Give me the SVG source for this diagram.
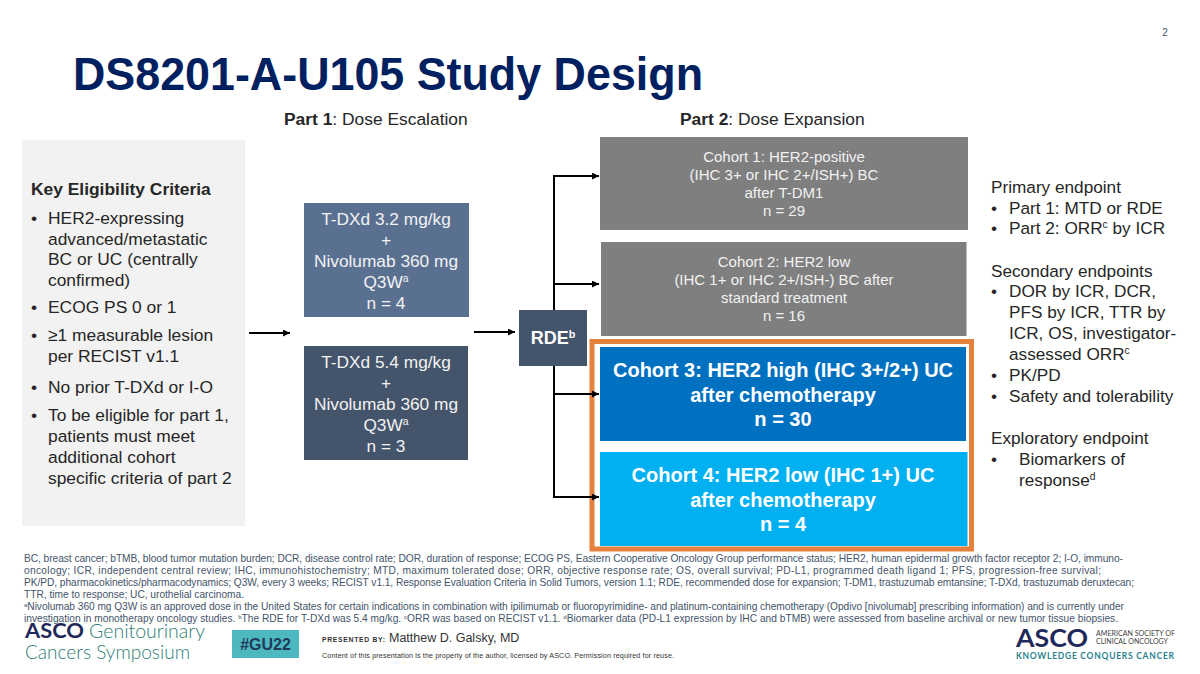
<svg xmlns="http://www.w3.org/2000/svg" width="1200" height="674" viewBox="0 0 1200 674">
<style>
text{font-family:"Liberation Sans",Arial,sans-serif}
.w{fill:#fff;text-anchor:middle}
.c{font-size:15px;fill:#f2f2f2}
.d{font-size:17.3px;fill:#f2f2f2}
.big{font-size:20px;font-weight:bold}
.k{font-size:17.4px;fill:#262626}
.e{font-size:17.2px;fill:#262626}
.h{font-size:17.4px;fill:#262626}
.f{font-size:10.2px;fill:#44546a}
.sup{font-size:60%}
.conn{fill:none;stroke:#000;stroke-width:2}
.logo{font-family:Lato,"Liberation Sans",sans-serif}
.thin{font-weight:300}
</style>
<defs>
<marker id="arrow" markerWidth="8" markerHeight="8" refX="7" refY="3.5" orient="auto" markerUnits="userSpaceOnUse"><path d="M0,0 L7,3.5 L0,7 Z" fill="#000"/></marker>
</defs>
<rect width="1200" height="674" fill="#fff"/>
<text x="1165" y="36" font-size="10" fill="#44546a" text-anchor="middle">2</text>
<text x="73" y="90" font-size="46" font-weight="bold" fill="#002060" textLength="630" lengthAdjust="spacingAndGlyphs">DS8201-A-U105 Study Design</text>
<text x="284" y="125" class="h"><tspan font-weight="bold">Part 1</tspan>: Dose Escalation</text>
<text x="680" y="125" class="h"><tspan font-weight="bold">Part 2</tspan>: Dose Expansion</text>

<g id="eligibility">
<rect x="22" y="140" width="223" height="386" fill="#f2f2f2"/>
<text x="31" y="195" class="k" font-weight="bold">Key Eligibility Criteria</text>
<text x="31" y="224" class="k">•</text><text x="48" y="224" class="k">HER2-expressing</text>
<text x="48" y="245" class="k">advanced/metastatic</text>
<text x="48" y="265" class="k">BC or UC (centrally</text>
<text x="48" y="286" class="k">confirmed)</text>
<text x="31" y="313" class="k">•</text><text x="48" y="313" class="k">ECOG PS 0 or 1</text>
<text x="31" y="341" class="k">•</text><text x="48" y="341" class="k">≥1 measurable lesion</text>
<text x="48" y="362" class="k">per RECIST v1.1</text>
<text x="31" y="393" class="k">•</text><text x="48" y="393" class="k">No prior T-DXd or I-O</text>
<text x="31" y="421" class="k">•</text><text x="48" y="421" class="k">To be eligible for part 1,</text>
<text x="48" y="442" class="k">patients must meet</text>
<text x="48" y="463" class="k">additional cohort</text>
<text x="48" y="484" class="k">specific criteria of part 2</text>
</g>

<g id="dose-32">
<rect x="304" y="203" width="165" height="114" fill="#5a7091"/>
<text x="386" y="225" class="w d">T-DXd 3.2 mg/kg</text>
<text x="386" y="246" class="w d">+</text>
<text x="386" y="267" class="w d">Nivolumab 360 mg</text>
<text x="386" y="288" class="w d">Q3W<tspan class="sup" dy="-6">a</tspan></text>
<text x="386" y="309" class="w d">n = 4</text>
</g>
<g id="dose-54">
<rect x="304" y="346" width="164" height="114" fill="#44546a"/>
<text x="386" y="368" class="w d">T-DXd 5.4 mg/kg</text>
<text x="386" y="389" class="w d">+</text>
<text x="386" y="410" class="w d">Nivolumab 360 mg</text>
<text x="386" y="431" class="w d">Q3W<tspan class="sup" dy="-6">a</tspan></text>
<text x="386" y="452" class="w d">n = 3</text>
</g>
<g id="rde">
<rect x="519" y="310" width="68" height="56" fill="#44546a"/>
<text x="553" y="344" class="w" font-size="18" font-weight="bold">RDE<tspan class="sup" dy="-6">b</tspan></text>
</g>

<g id="cohort-1">
<rect x="600" y="137" width="368" height="93" fill="#7f7f7f"/>
<text x="784" y="162" class="w c">Cohort 1: HER2-positive</text>
<text x="784" y="180" class="w c">(IHC 3+ or IHC 2+/ISH+) BC</text>
<text x="784" y="198" class="w c">after T-DM1</text>
<text x="784" y="216" class="w c">n = 29</text>
</g>
<g id="cohort-2">
<rect x="601" y="242" width="365.500" height="94" fill="#7f7f7f"/>
<text x="784" y="267" class="w c">Cohort 2: HER2 low</text>
<text x="784" y="285" class="w c">(IHC 1+ or IHC 2+/ISH-) BC after</text>
<text x="784" y="303" class="w c">standard treatment</text>
<text x="784" y="321" class="w c">n = 16</text>
</g>
<g id="cohort-3">
<rect x="600" y="347" width="366" height="94" fill="#0070c0"/>
<text x="783" y="377" class="w big">Cohort 3: HER2 high (IHC 3+/2+) UC</text>
<text x="783" y="402" class="w big">after chemotherapy</text>
<text x="783" y="426" class="w big">n = 30</text>
</g>
<g id="cohort-4">
<rect x="600" y="452" width="367.500" height="94" fill="#00b0f0"/>
<text x="783" y="482" class="w big">Cohort 4: HER2 low (IHC 1+) UC</text>
<text x="783" y="507" class="w big">after chemotherapy</text>
<text x="783" y="531" class="w big">n = 4</text>
</g>
<rect id="highlight" x="592" y="341.500" width="379.500" height="207.500" fill="none" stroke="#e5813c" stroke-width="5"/>

<g id="connectors">
<path class="conn" marker-end="url(#arrow)" d="M249,333 H290"/>
<path class="conn" marker-end="url(#arrow)" d="M474,332 H515"/>
<path class="conn" d="M554,310 V176"/>
<path class="conn" marker-end="url(#arrow)" d="M553,176 H599"/>
<path class="conn" marker-end="url(#arrow)" d="M554,284 H599"/>
<path class="conn" d="M554,366 V497"/>
<path class="conn" marker-end="url(#arrow)" d="M554,394 H599"/>
<path class="conn" marker-end="url(#arrow)" d="M553,497 H599"/>
</g>

<g id="endpoints">
<text x="991" y="193" class="e">Primary endpoint</text>
<text x="991" y="214" class="e">•</text><text x="1009" y="214" class="e">Part 1: MTD or RDE</text>
<text x="991" y="234" class="e">•</text><text x="1009" y="234" class="e">Part 2: ORR<tspan class="sup" dy="-6">c</tspan><tspan dy="6"> by ICR</tspan></text>
<text x="991" y="277" class="e">Secondary endpoints</text>
<text x="991" y="297" class="e">•</text><text x="1009" y="297" class="e">DOR by ICR, DCR,</text>
<text x="1009" y="318" class="e">PFS by ICR, TTR by</text>
<text x="1009" y="339" class="e">ICR, OS, investigator-</text>
<text x="1009" y="360" class="e">assessed ORR<tspan class="sup" dy="-6">c</tspan></text>
<text x="991" y="381" class="e">•</text><text x="1009" y="381" class="e">PK/PD</text>
<text x="991" y="402" class="e">•</text><text x="1009" y="402" class="e">Safety and tolerability</text>
<text x="991" y="444" class="e">Exploratory endpoint</text>
<text x="991" y="465" class="e">•</text><text x="1019" y="465" class="e">Biomarkers of</text>
<text x="1019" y="486" class="e">response<tspan class="sup" dy="-6">d</tspan></text>
</g>

<g id="footnotes">
<text x="24" y="562" class="f" textLength="1099">BC, breast cancer; bTMB, blood tumor mutation burden; DCR, disease control rate; DOR, duration of response; ECOG PS, Eastern Cooperative Oncology Group performance status; HER2, human epidermal growth factor receptor 2; I-O, immuno-</text>
<text x="24" y="574" class="f" textLength="1077">oncology; ICR, independent central review; IHC, immunohistochemistry; MTD, maximum tolerated dose; ORR, objective response rate; OS, overall survival; PD-L1, programmed death ligand 1; PFS, progression-free survival;</text>
<text x="24" y="586" class="f" textLength="1110">PK/PD, pharmacokinetics/pharmacodynamics; Q3W, every 3 weeks; RECIST v1.1, Response Evaluation Criteria in Solid Tumors, version 1.1; RDE, recommended dose for expansion; T-DM1, trastuzumab emtansine; T-DXd, trastuzumab deruxtecan;</text>
<text x="24" y="598" class="f" textLength="220">TTR, time to response; UC, urothelial carcinoma.</text>
<text x="24" y="610" class="f" textLength="1100"><tspan class="sup" dy="-3">a</tspan><tspan dy="3">Nivolumab 360 mg Q3W is an approved dose in the United States for certain indications in combination with ipilimumab or fluoropyrimidine- and platinum-containing chemotherapy (Opdivo [nivolumab] prescribing information) and is currently under</tspan></text>
<text x="24" y="622" class="f" textLength="1094">investigation in monotherapy oncology studies. <tspan class="sup" dy="-3">b</tspan><tspan dy="3">The RDE for T-DXd was 5.4 mg/kg. </tspan><tspan class="sup" dy="-3">c</tspan><tspan dy="3">ORR was based on RECIST v1.1. </tspan><tspan class="sup" dy="-3">d</tspan><tspan dy="3">Biomarker data (PD-L1 expression by IHC and bTMB) were assessed from baseline archival or new tumor tissue biopsies.</tspan></text>
</g>

<g id="symposium-logo">
<text x="25" y="638" font-size="20" font-weight="bold" fill="#1f2a5a" class="logo" textLength="59" lengthAdjust="spacingAndGlyphs">ASCO</text>
<text x="89" y="638" font-size="20" fill="#2d7d78" class="logo thin" textLength="116" lengthAdjust="spacingAndGlyphs">Genitourinary</text>
<text x="25" y="659" font-size="20" fill="#2d7d78" class="logo thin" textLength="165" lengthAdjust="spacingAndGlyphs">Cancers Symposium</text>
</g>
<g id="hashtag">
<rect x="232" y="630" width="67" height="28" fill="#4db8c0"/>
<text x="265.500" y="650" font-size="16" font-weight="bold" fill="#1f3a5a" text-anchor="middle">#GU22</text>
</g>
<g id="presenter">
<text x="322" y="642" font-size="6.8" font-weight="bold" fill="#333" letter-spacing=".7">PRESENTED BY:</text>
<text x="389" y="642" font-size="12.500" fill="#333">Matthew D. Galsky, MD</text>
<text x="322" y="658" font-size="7.2" fill="#333" textLength="352">Content of this presentation is the property of the author, licensed by ASCO. Permission required for reuse.</text>
</g>
<g id="asco-logo">
<text x="1016" y="647" font-size="25" font-weight="bold" fill="#1f2a5a" class="logo" textLength="72" lengthAdjust="spacingAndGlyphs">ASCO</text>
<text x="1096" y="636" font-size="7" fill="#444" class="logo" textLength="79" lengthAdjust="spacingAndGlyphs">AMERICAN SOCIETY OF</text>
<text x="1096" y="644" font-size="7" fill="#444" class="logo" textLength="72" lengthAdjust="spacingAndGlyphs">CLINICAL ONCOLOGY</text>
<text x="1016" y="659" font-size="8.500" font-weight="bold" fill="#2a7f8e" class="logo" textLength="158">KNOWLEDGE CONQUERS CANCER</text>
</g>
</svg>
